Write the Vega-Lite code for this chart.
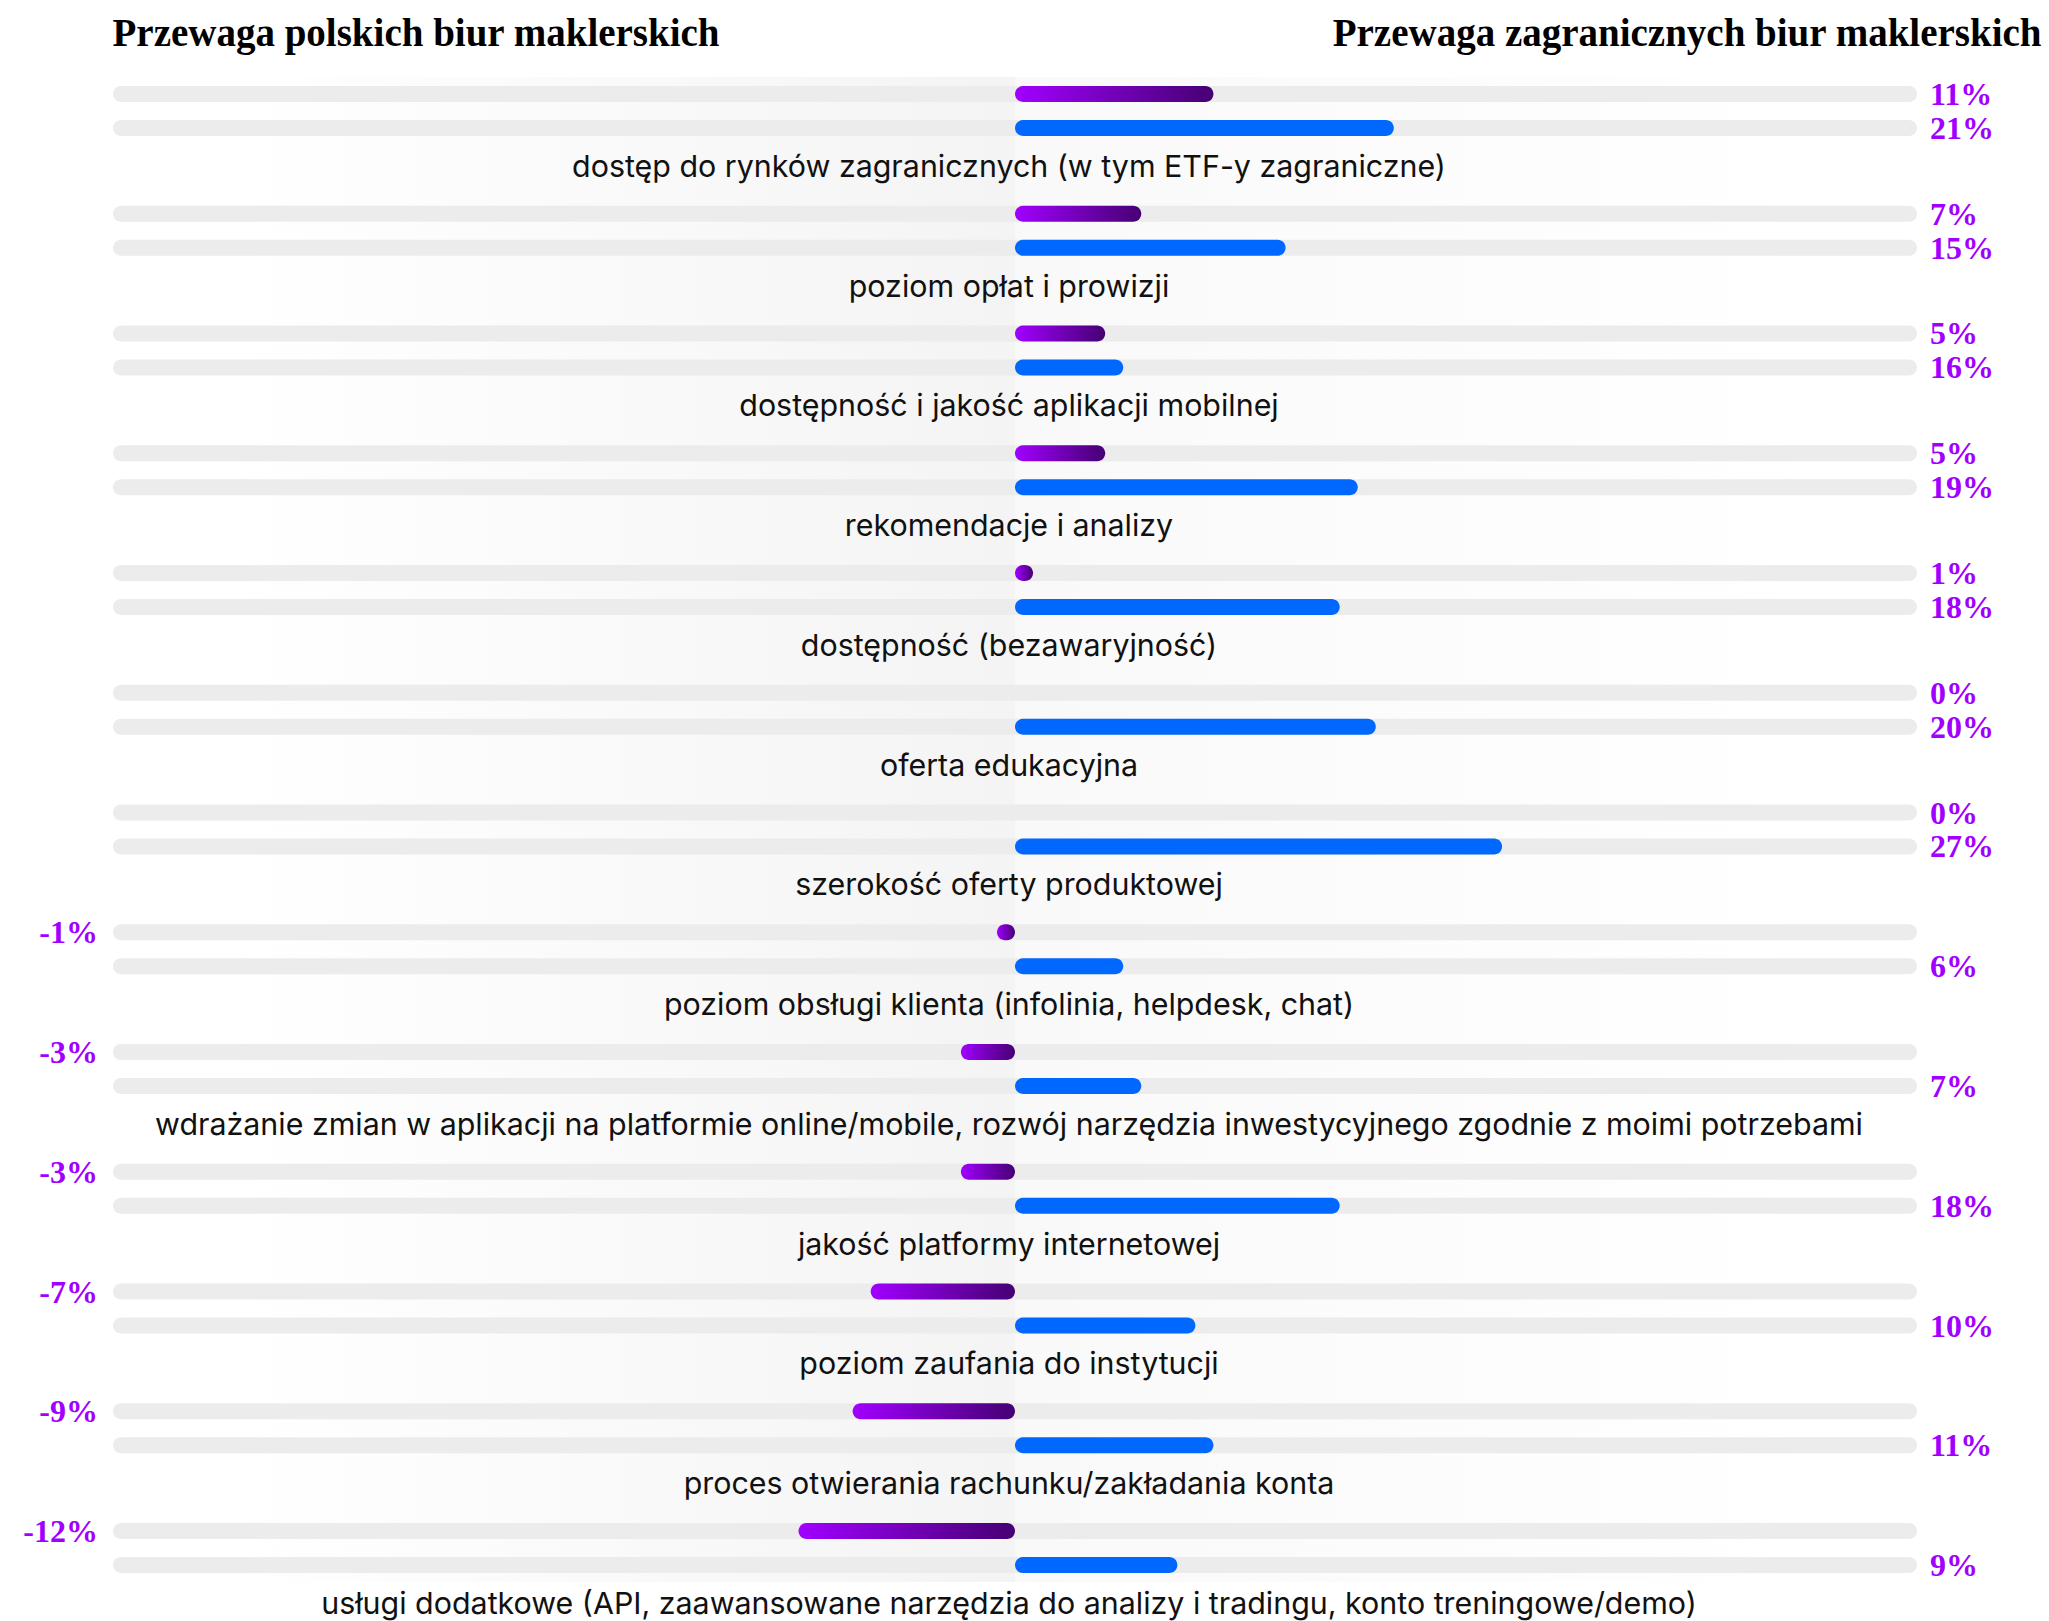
{
  "$schema": "https://vega.github.io/schema/vega-lite/v6.json",
  "width": 1804,
  "height": 1505,
  "autosize": "none",
  "padding": {"left": 113, "top": 77, "right": 132, "bottom": 39},
  "background": "#ffffff",
  "config": {"view": {"stroke": null}},
  "datasets": {
    "rows": [
      {"cat": "dostęp do rynków zagranicznych (w tym ETF-y zagraniczne)", "series": "a", "value": 11, "label": "11%"},
      {"cat": "dostęp do rynków zagranicznych (w tym ETF-y zagraniczne)", "series": "b", "value": 21, "label": "21%"},
      {"cat": "poziom opłat i prowizji", "series": "a", "value": 7, "label": "7%"},
      {"cat": "poziom opłat i prowizji", "series": "b", "value": 15, "label": "15%"},
      {"cat": "dostępność i jakość aplikacji mobilnej", "series": "a", "value": 5, "label": "5%"},
      {"cat": "dostępność i jakość aplikacji mobilnej", "series": "b", "value": 6, "label": "16%"},
      {"cat": "rekomendacje i analizy", "series": "a", "value": 5, "label": "5%"},
      {"cat": "rekomendacje i analizy", "series": "b", "value": 19, "label": "19%"},
      {"cat": "dostępność (bezawaryjność)", "series": "a", "value": 1, "label": "1%"},
      {"cat": "dostępność (bezawaryjność)", "series": "b", "value": 18, "label": "18%"},
      {"cat": "oferta edukacyjna", "series": "a", "value": 0, "label": "0%"},
      {"cat": "oferta edukacyjna", "series": "b", "value": 20, "label": "20%"},
      {"cat": "szerokość oferty produktowej", "series": "a", "value": 0, "label": "0%"},
      {"cat": "szerokość oferty produktowej", "series": "b", "value": 27, "label": "27%"},
      {"cat": "poziom obsługi klienta (infolinia, helpdesk, chat)", "series": "a", "value": -1, "label": "-1%"},
      {"cat": "poziom obsługi klienta (infolinia, helpdesk, chat)", "series": "b", "value": 6, "label": "6%"},
      {"cat": "wdrażanie zmian w aplikacji na platformie online/mobile, rozwój narzędzia inwestycyjnego zgodnie z moimi potrzebami", "series": "a", "value": -3, "label": "-3%"},
      {"cat": "wdrażanie zmian w aplikacji na platformie online/mobile, rozwój narzędzia inwestycyjnego zgodnie z moimi potrzebami", "series": "b", "value": 7, "label": "7%"},
      {"cat": "jakość platformy internetowej", "series": "a", "value": -3, "label": "-3%"},
      {"cat": "jakość platformy internetowej", "series": "b", "value": 18, "label": "18%"},
      {"cat": "poziom zaufania do instytucji", "series": "a", "value": -8, "label": "-7%"},
      {"cat": "poziom zaufania do instytucji", "series": "b", "value": 10, "label": "10%"},
      {"cat": "proces otwierania rachunku/zakładania konta", "series": "a", "value": -9, "label": "-9%"},
      {"cat": "proces otwierania rachunku/zakładania konta", "series": "b", "value": 11, "label": "11%"},
      {"cat": "usługi dodatkowe (API, zaawansowane narzędzia do analizy i tradingu, konto treningowe/demo)", "series": "a", "value": -12, "label": "-12%"},
      {"cat": "usługi dodatkowe (API, zaawansowane narzędzia do analizy i tradingu, konto treningowe/demo)", "series": "b", "value": 9, "label": "9%"}
    ]
  },
  "data": {"name": "rows"},
  "layer": [
    {
      "data": {"values": [{}]},
      "mark": {"type": "rect", "color": {"gradient": "linear", "x1": 0, "x2": 1, "y1": 0, "y2": 0, "stops": [{"offset": 0, "color": "#ffffff"}, {"offset": 1, "color": "#f4f4f4"}]}},
      "encoding": {"x": {"datum": -43, "type": "quantitative", "scale": {"domain": [-50, 50]}, "axis": {"domain": false, "ticks": false, "labels": false, "grid": false, "orient": "top", "title": "Przewaga zagranicznych biur maklerskich", "titleFont": "Liberation Serif", "titleFontSize": 39, "titleFontWeight": "bold", "titleColor": "#000000", "titleAnchor": "end", "titleAlign": "right", "titleBaseline": "alphabetic", "titleX": 1928, "titleY": -32}}, "x2": {"datum": 0}}
    },
    {
      "data": {"values": [{}]},
      "mark": {"type": "rect", "color": {"gradient": "linear", "x1": 0, "x2": 1, "y1": 0, "y2": 0, "stops": [{"offset": 0, "color": "#f9f9f9"}, {"offset": 1, "color": "#ffffff"}]}},
      "encoding": {"x": {"datum": 0, "type": "quantitative"}, "x2": {"datum": 43}}
    },
    {
      "mark": {"type": "bar", "height": 16, "cornerRadius": 8, "color": "#ececec"},
      "encoding": {
        "y": {"field": "cat", "type": "nominal", "sort": null, "scale": {"paddingInner": 0.4322, "paddingOuter": 0}, "axis": {"domain": false, "ticks": false, "labels": false, "grid": false, "title": "Przewaga polskich biur maklerskich", "titleFont": "Liberation Serif", "titleFontSize": 39, "titleFontWeight": "bold", "titleColor": "#000000", "titleAngle": 0, "titleAlign": "left", "titleBaseline": "alphabetic", "titleX": -1, "titleY": -32}},
        "yOffset": {"field": "series", "type": "nominal", "scale": {"domain": ["a", "b"], "paddingInner": 0, "paddingOuter": 0}},
        "x": {"datum": -50, "type": "quantitative"},
        "x2": {"datum": 50}
      }
    },
    {
      "transform": [{"filter": "datum.series == 'a'"}],
      "mark": {"type": "bar", "height": 16, "cornerRadius": 8, "color": {"gradient": "linear", "x1": 0, "x2": 1, "y1": 0, "y2": 0, "stops": [{"offset": 0, "color": "#a100ff"}, {"offset": 1, "color": "#460073"}]}},
      "encoding": {
        "y": {"field": "cat", "type": "nominal", "sort": null},
        "yOffset": {"field": "series", "type": "nominal"},
        "x": {"field": "value", "type": "quantitative"},
        "x2": {"datum": 0}
      }
    },
    {
      "transform": [{"filter": "datum.series == 'b'"}],
      "mark": {"type": "bar", "height": 16, "cornerRadius": 8, "color": "#0068ff"},
      "encoding": {
        "y": {"field": "cat", "type": "nominal", "sort": null},
        "yOffset": {"field": "series", "type": "nominal"},
        "x": {"field": "value", "type": "quantitative"},
        "x2": {"datum": 0}
      }
    },
    {
      "transform": [{"filter": "datum.value >= 0"}],
      "mark": {"type": "text", "align": "left", "baseline": "middle", "dx": 13, "dy": 1, "font": "Liberation Serif", "fontSize": 32, "fontWeight": "bold", "color": "#a100ff"},
      "encoding": {
        "y": {"field": "cat", "type": "nominal", "sort": null},
        "yOffset": {"field": "series", "type": "nominal"},
        "x": {"datum": 50, "type": "quantitative"},
        "text": {"field": "label"}
      }
    },
    {
      "transform": [{"filter": "datum.value < 0"}],
      "mark": {"type": "text", "align": "right", "baseline": "middle", "dx": -15, "dy": 1, "font": "Liberation Serif", "fontSize": 32, "fontWeight": "bold", "color": "#a100ff"},
      "encoding": {
        "y": {"field": "cat", "type": "nominal", "sort": null},
        "yOffset": {"field": "series", "type": "nominal"},
        "x": {"datum": -50, "type": "quantitative"},
        "text": {"field": "label"}
      }
    },
    {
      "transform": [{"filter": "datum.series == 'a'"}],
      "mark": {"type": "text", "align": "center", "baseline": "middle", "dx": -6, "dy": 23, "font": "Inter", "fontSize": 30.4, "color": "#111111"},
      "encoding": {
        "y": {"field": "cat", "type": "nominal", "sort": null, "bandPosition": 1},
        "x": {"datum": 0, "type": "quantitative"},
        "text": {"field": "cat"}
      }
    }
  ]
}
